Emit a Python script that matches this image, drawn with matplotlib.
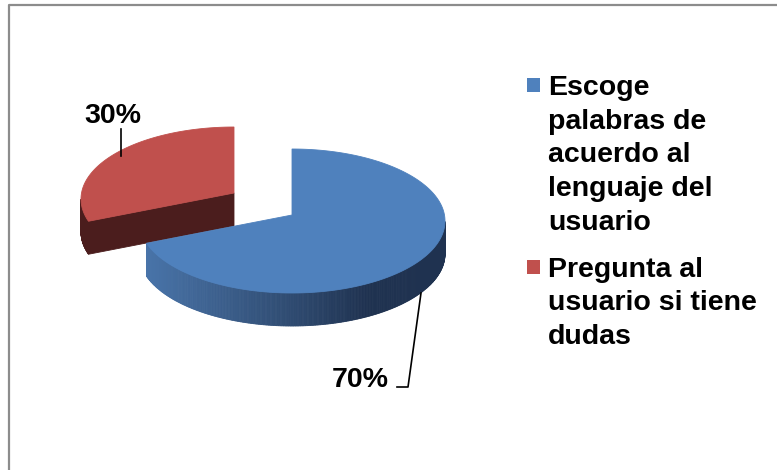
import numpy as np
import matplotlib
matplotlib.use("Agg")
import matplotlib.pyplot as plt
from matplotlib.patches import Polygon, Rectangle
from matplotlib.colors import LinearSegmentedColormap

# data
labels = ["Escoge\npalabras de\nacuerdo al\nlenguaje del\nusuario",
          "Pregunta al\nusuario si tiene\ndudas"]
values = [70, 30]
colors = ["#4F81BD", "#C0504D"]
side_colors = [None, "#4B1D1D"]

plt.rcParams["font.family"] = ["Liberation Sans", "DejaVu Sans"]

fig = plt.figure(figsize=(7.77, 4.70), dpi=100)
ax = fig.add_axes([0, 0, 1, 1])
ax.set_xlim(0, 777)
ax.set_ylim(470, 0)
ax.axis("off")

# chart frame (runs off the right and bottom edges)
ax.plot([9, 9, 777], [470, 5, 5], color="#8C8C8C", lw=1.6, solid_capstyle="butt")

# pie geometry (pixels)
cx, cy = 292, 221
rx, ry = 153, 72
depth = 33
apex_lift = 6
explode = [(0, 0), (-58, -22)]

blue_side = LinearSegmentedColormap.from_list(
    "side", [(0, "#4A76AC"), (0.5, "#2F4B71"), (0.75, "#1F3250"), (1, "#1F3250")])


def pt(t, ox, oy, dz=0):
    r = np.radians(t)
    return (cx + ox + rx * np.cos(r), cy + oy - ry * np.sin(r) + dz)


# slice angles, clockwise from 12 o'clock
total = float(sum(values))
bounds = []
start = 90.0
for v in values:
    end = start - 360.0 * v / total
    bounds.append((end, start))
    start = end


def wall_color(i, x, ox):
    if side_colors[i] is not None:
        return side_colors[i]
    return blue_side((x - (cx + ox - rx)) / (2 * rx))


def draw_slice(i):
    lo, hi = bounds[i]
    ox, oy = explode[i]
    apex = (cx + ox, cy + oy - apex_lift)
    apex_b = (apex[0], apex[1] + depth)

    # outer wall, only the part facing the viewer
    ts = np.linspace(lo, hi, 400)
    front = ts[np.sin(np.radians(ts)) < 0]
    for a, b in zip(front[:-1], front[1:]):
        p1, p2 = pt(a, ox, oy), pt(b, ox, oy)
        q1, q2 = pt(a, ox, oy, depth), pt(b, ox, oy, depth)
        c = wall_color(i, (p1[0] + p2[0]) / 2, ox)
        ax.add_patch(Polygon([p1, p2, q2, q1], closed=True, fc=c, ec=c, lw=0.6))

    # cut faces whose normal points toward the viewer
    for t, normal in ((lo, lo - 90), (hi, hi + 90)):
        if np.sin(np.radians(normal)) < -1e-6:
            c = side_colors[i] if side_colors[i] is not None else wall_color(i, apex[0], ox)
            ax.add_patch(Polygon([apex, pt(t, ox, oy), pt(t, ox, oy, depth), apex_b],
                                 closed=True, fc=c, ec=c, lw=0.6))

    # top face
    top = [apex] + [pt(t, ox, oy) for t in np.linspace(lo, hi, 200)]
    ax.add_patch(Polygon(top, closed=True, fc=colors[i], ec=colors[i], lw=0.6))


draw_slice(1)
draw_slice(0)

# value labels with leader lines
lab_font = dict(fontsize=20.5, fontweight="bold", color="black")
ax.text(113, 123, f"{values[1]}%", ha="center", va="baseline", **lab_font)
ax.plot([121, 121], [129, 156], color="black", lw=1.2)
ax.text(360, 387, f"{values[0]}%", ha="center", va="baseline", **lab_font)
ax.plot([421, 408, 397], [293, 387, 387], color="black", lw=1.2)

# legend
line_h = 33.75
base = 95
for lab, col in zip(labels, colors):
    lines = lab.split("\n")
    ax.add_patch(Rectangle((527, base - 17), 13, 14, fc=col, ec="none"))
    for k, s in enumerate(lines):
        ax.text(548, base + k * line_h, s, ha="left", va="baseline", **lab_font)
    base += len(lines) * line_h + 13

fig.savefig("out.png", dpi=100)
